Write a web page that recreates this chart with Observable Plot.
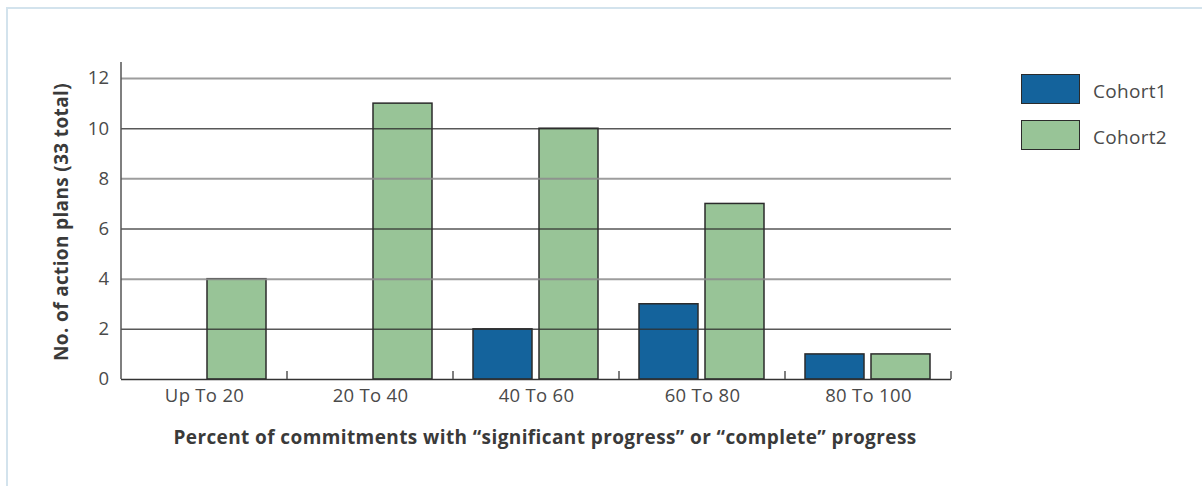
<!DOCTYPE html>
<html>
<head>
<meta charset="utf-8">
<script src="https://cdn.jsdelivr.net/npm/d3@7"></script>
<script src="https://cdn.jsdelivr.net/npm/@observablehq/plot@0.6"></script>
<style>
  html, body { margin: 0; padding: 0; background: #fff; }
  #wrap { position: relative; width: 1202px; height: 486px; overflow: hidden; background: #fff;
          font-family: "Open Sans", sans-serif; color: #444; }
  .border-top { position: absolute; left: 6px; top: 7px; width: 1196px; height: 2px; background: #d3e3ed; }
  .border-left { position: absolute; left: 6px; top: 7px; width: 2px; height: 479px; background: #d3e3ed; }
  #chart { position: absolute; left: 0; top: 0; }
  .ytitle { position: absolute; left: 61px; top: 222px; transform: translate(-50%, -50%) rotate(-90deg);
            white-space: nowrap; font-size: 19px; letter-spacing: 0.35px; font-weight: 700; color: #3a3a3a; }
  .xtitle { position: absolute; left: 545px; top: 437px; transform: translate(-50%, -50%);
            white-space: nowrap; font-size: 19px; letter-spacing: 0.4px; font-weight: 700; color: #3a3a3a; }
  .legend-item { position: absolute; left: 1021px; height: 32px; display: flex; align-items: center; }
  .legend-item .sw { width: 57px; height: 28px; border: 1.5px solid #2b2b2b; }
  .legend-item .lb { margin-left: 13px; font-size: 19px; letter-spacing: 0.3px; color: #4a4a4a; position: relative; top: 2px; }
</style>
</head>
<body>
<div id="wrap">
  <div class="border-top"></div>
  <div class="border-left"></div>
  <div id="chart"></div>
  <div class="ytitle">No. of action plans (33 total)</div>
  <div class="xtitle">Percent of commitments with “significant progress” or “complete” progress</div>
  <div id="legend"></div>
</div>
<script>
const categories = ["Up To 20", "20 To 40", "40 To 60", "60 To 80", "80 To 100"];
const series = ["Cohort1", "Cohort2"];
const cohort1 = [0, 0, 2, 3, 1];
const cohort2 = [4, 11, 10, 7, 1];
const yTicks = [0, 2, 4, 6, 8, 10, 12];
const gridDark = [10, 6, 2];
const gridLight = [12, 8, 4];
const seriesColors = ["#14639c", "#98c497"];

const data = [];
categories.forEach((c, i) => {
  data.push({range: c, cohort: series[0], value: cohort1[i]});
  data.push({range: c, cohort: series[1], value: cohort2[i]});
});

const plot = Plot.plot({
  width: 960,
  height: 460,
  marginLeft: 120,
  marginRight: 8,
  marginTop: 62,
  marginBottom: 81,
  style: {fontFamily: "'Open Sans', sans-serif", fontSize: "18.5px", letterSpacing: "0.3px", color: "#4a4a4a", background: "transparent"},
  fx: {domain: categories, padding: 0, label: null, axis: "bottom", tickSize: 0, tickPadding: 9},
  x: {domain: series, axis: null, paddingInner: 0.1, paddingOuter: 0.3},
  y: {domain: [0, 12.64], ticks: yTicks, tickSize: 0, tickPadding: 12, label: null},
  color: {domain: series, range: seriesColors},
  marks: [
    Plot.barY(data, {filter: d => d.value > 0, fx: "range", x: "cohort", y: "value", fill: "cohort",
                     stroke: "#2b2b2b", strokeWidth: 1.5}),
    Plot.ruleY(gridLight, {stroke: "#8c8c8c", strokeWidth: 2, strokeOpacity: 0.85}),
    Plot.ruleY(gridDark, {stroke: "#2e2e2e", strokeWidth: 1.5, strokeOpacity: 0.8}),
    Plot.ruleY([0], {stroke: "#333", strokeWidth: 1.5})
  ]
});

// axis line and category boundary ticks, positioned with the plot's own scales
const fxS = plot.scale("fx");
const yS = plot.scale("y");
const bw = fxS.bandwidth != null ? fxS.bandwidth : fxS.step;
const y0 = yS.apply(0);
const yTop = yS.apply(yS.domain[1]);
const g = d3.select(plot).append("g").attr("stroke", "#555").attr("stroke-width", 1.5);
g.append("line")
  .attr("x1", fxS.apply(categories[0])).attr("x2", fxS.apply(categories[0]))
  .attr("y1", y0).attr("y2", yTop);
categories.forEach(c => {
  const x = fxS.apply(c) + bw;
  g.append("line").attr("x1", x).attr("x2", x).attr("y1", y0).attr("y2", y0 - 8);
});
document.getElementById("chart").appendChild(plot);

// legend
const legend = document.getElementById("legend");
const legendTops = [73, 119];
series.forEach((s, i) => {
  const item = document.createElement("div");
  item.className = "legend-item";
  item.style.top = legendTops[i] + "px";
  const sw = document.createElement("div");
  sw.className = "sw";
  sw.style.background = seriesColors[i];
  const lb = document.createElement("div");
  lb.className = "lb";
  lb.textContent = s;
  item.appendChild(sw);
  item.appendChild(lb);
  legend.appendChild(item);
});
</script>
</body>
</html>
